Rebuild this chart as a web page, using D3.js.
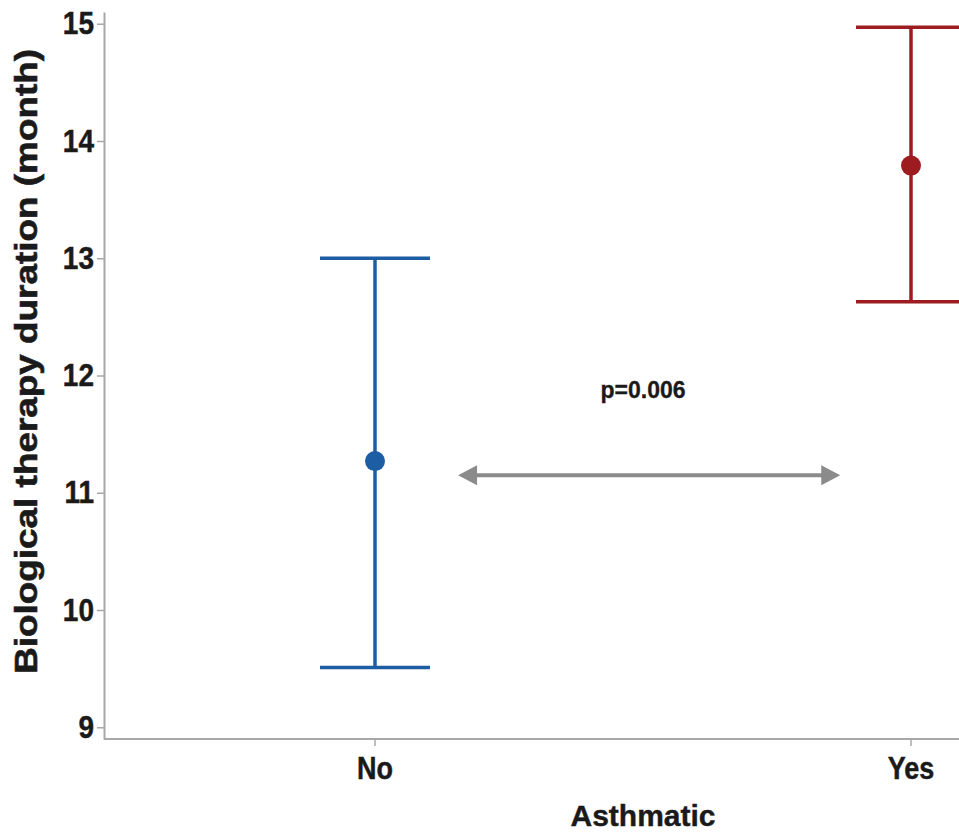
<!DOCTYPE html>
<html>
<head>
<meta charset="utf-8">
<script src="https://cdn.jsdelivr.net/npm/d3@7"></script>
<style>
  body { margin: 0; background: #fff; }
  text { font-family: "Liberation Sans", Arial, sans-serif; font-weight: bold; fill: #1a1a1a; }
</style>
</head>
<body>
<svg id="chart"></svg>
<script>
// data
const groups = ["No", "Yes"];
const means = [11.27, 13.79];
const lower = [9.51, 12.63];
const upper = [13.0, 14.97];
const colors = ["#1c5da3", "#9c1c20"];
const yTicks = [9, 10, 11, 12, 13, 14, 15];
const pLabel = "p=0.006";

// Width and height of SVG
const w = 959;
const h = 836;
const margin = { top: 12, right: 0, bottom: 97, left: 104 };

const svg = d3.select("#chart")
    .attr("width", w)
    .attr("height", h);

const xScale = d3.scalePoint()
    .domain(groups)
    .range([375, 911]);

const yScale = d3.scaleLinear()
    .domain([8.9, 15.1])
    .range([h - margin.bottom, margin.top]);

const axisGray = "#a8a8a8";

// y axis
const yAxis = g => g
    .attr("transform", `translate(${margin.left},0)`)
    .call(d3.axisLeft(yScale).tickValues(yTicks).tickFormat(d3.format("d"))
        .tickSize(7).tickPadding(3).tickSizeOuter(0))
    .call(g => g.select(".domain").attr("stroke", axisGray).attr("stroke-width", 2))
    .call(g => g.selectAll(".tick line").attr("stroke", axisGray).attr("stroke-width", 1.5))
    .call(g => g.selectAll(".tick text")
        .attr("font-size", 28)
        .attr("font-family", "Liberation Sans, Arial, sans-serif")
        .attr("font-weight", "bold")
        .attr("fill", "#1a1a1a")
        .attr("stroke", "#1a1a1a")
        .attr("stroke-width", 0.4)
        .attr("transform", "scale(1,1.12)"));

svg.append("g").call(yAxis);

// x axis, runs off the right edge like the original
svg.append("line")
    .attr("x1", margin.left).attr("x2", w)
    .attr("y1", yScale(8.9)).attr("y2", yScale(8.9))
    .attr("stroke", axisGray).attr("stroke-width", 2);

const xTick = svg.append("g").selectAll("g")
    .data(groups)
    .join("g")
    .attr("transform", d => `translate(${xScale(d)},${yScale(8.9)})`);

xTick.append("line")
    .attr("y1", 0).attr("y2", 7)
    .attr("stroke", axisGray).attr("stroke-width", 1.5);

xTick.append("text")
    .attr("text-anchor", "middle")
    .attr("font-size", 27)
    .attr("stroke", "#1a1a1a")
    .attr("stroke-width", 0.4)
    .attr("transform", "translate(0,40) scale(1,1.15)")
    .text(d => d);

// axis titles
svg.append("text")
    .attr("text-anchor", "middle")
    .attr("font-size", 31)
    .attr("stroke", "#1a1a1a")
    .attr("stroke-width", 0.6)
    .attr("transform", `translate(37,${yScale(12.12)}) rotate(-90) scale(1.19,1)`)
    .text("Biological therapy duration (month)");

svg.append("text")
    .attr("text-anchor", "middle")
    .attr("font-size", 30)
    .attr("stroke", "#1a1a1a")
    .attr("stroke-width", 0.4)
    .attr("x", (xScale("No") + xScale("Yes")) / 2)
    .attr("y", 826)
    .text("Asthmatic");

// error bars
const bars = groups.map((g, i) => ({ g, mean: means[i], lo: lower[i], hi: upper[i], color: colors[i] }));
const capHalf = 55;

const bar = svg.append("g").selectAll("g")
    .data(bars)
    .join("g")
    .attr("stroke", d => d.color)
    .attr("fill", d => d.color);

bar.append("line")
    .attr("x1", d => xScale(d.g)).attr("x2", d => xScale(d.g))
    .attr("y1", d => yScale(d.lo)).attr("y2", d => yScale(d.hi))
    .attr("stroke-width", 3.5);

bar.append("line")
    .attr("x1", d => xScale(d.g) - capHalf).attr("x2", d => xScale(d.g) + capHalf)
    .attr("y1", d => yScale(d.hi)).attr("y2", d => yScale(d.hi))
    .attr("stroke-width", 3.5);

bar.append("line")
    .attr("x1", d => xScale(d.g) - capHalf).attr("x2", d => xScale(d.g) + capHalf)
    .attr("y1", d => yScale(d.lo)).attr("y2", d => yScale(d.lo))
    .attr("stroke-width", 3.5);

bar.append("circle")
    .attr("cx", d => xScale(d.g))
    .attr("cy", d => yScale(d.mean))
    .attr("r", 10)
    .attr("stroke", "none");

// p-value annotation with double-headed arrow
const arrowGray = "#8b8b8b";
const between = d3.interpolateNumber(xScale("No"), xScale("Yes"));
const arrowY = yScale(11.15);
const ax1 = between(0.155);
const ax2 = between(0.868);
const head = 19;

svg.append("line")
    .attr("x1", ax1 + head - 2).attr("x2", ax2 - head + 2)
    .attr("y1", arrowY).attr("y2", arrowY)
    .attr("stroke", arrowGray).attr("stroke-width", 4);

svg.append("path")
    .attr("d", `M${ax1},${arrowY} L${ax1 + head},${arrowY - 10} L${ax1 + head},${arrowY + 10} Z`)
    .attr("fill", arrowGray);

svg.append("path")
    .attr("d", `M${ax2},${arrowY} L${ax2 - head},${arrowY - 10} L${ax2 - head},${arrowY + 10} Z`)
    .attr("fill", arrowGray);

svg.append("text")
    .attr("text-anchor", "middle")
    .attr("font-size", 23)
    .attr("stroke", "#1a1a1a")
    .attr("stroke-width", 0.3)
    .attr("transform", `translate(${between(0.5)},${yScale(11.81)})`)
    .text(pLabel);
</script>
</body>
</html>
